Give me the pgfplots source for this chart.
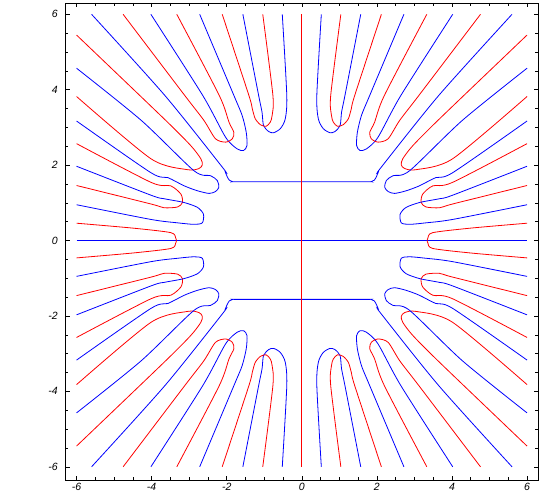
\documentclass[border=0pt]{standalone}
\usepackage{fontspec}
\setmainfont{Liberation Sans}
\usepackage{pgfplots}
\usepackage{pgfplotstable}
\pgfplotsset{compat=1.18}

% upper right quadrant only, the other three are mirror images
\pgfplotstableread{
x y
0.52 6.00
0.40 3.85
0.44 3.23
0.57 2.97
0.75 2.86
0.88 2.89
1.02 3.05
1.06 3.41
1.15 3.85
1.57 6.00
}\bluea
\pgfplotstableread{
x y
1.04 6.00
0.77 3.85
0.79 3.32
0.84 3.14
0.95 3.03
1.10 3.07
1.24 3.23
1.32 3.50
1.41 3.85
2.12 6.00
}\reda
\pgfplotstableread{
x y
2.72 6.00
1.81 3.85
1.59 3.32
1.48 2.87
1.46 2.52
1.55 2.39
1.72 2.43
2.03 2.74
2.64 3.85
4.02 6.00
}\blueb
\pgfplotstableread{
x y
3.33 6.00
2.20 3.85
1.94 3.14
1.81 2.87
1.85 2.70
2.03 2.61
2.30 2.70
2.61 3.19
3.12 3.85
4.76 6.00
}\redb
\pgfplotstableread{
x y
5.60 6.00
3.65 3.85
2.12 1.95
2.04 1.82
1.99 1.70
1.93 1.60
1.84 1.56
1.70 1.56
0.00 1.56
}\bluec
\pgfplotstableread{
x y
6.00 5.45
3.67 3.23
2.96 2.52
2.69 2.17
2.65 2.01
2.74 1.91
3.05 1.88
4.02 2.17
6.00 3.82
}\redc
\pgfplotstableread{
x y
6.00 4.57
4.28 3.19
2.87 1.85
2.43 1.72
2.25 1.59
2.21 1.41
2.30 1.30
2.47 1.25
2.78 1.32
3.13 1.45
3.57 1.67
4.02 1.80
6.00 3.17
}\blued
\pgfplotstableread{
x y
6.00 2.57
4.01 1.54
3.49 1.45
3.22 1.23
3.18 1.01
3.31 0.89
3.67 0.87
4.02 0.97
6.00 1.46
}\redd
\pgfplotstableread{
x y
6.00 1.97
4.01 1.20
3.67 1.11
3.14 1.01
2.78 0.88
2.62 0.70
2.65 0.47
2.87 0.43
3.31 0.47
4.02 0.56
6.00 0.95
}\bluee
\pgfplotstableread{
x y
6.00 0.46
4.50 0.33
3.49 0.21
3.36 0.07
3.34 0.00
}\rede

\newcommand{\fourfold}[2]{%
  \addplot[#1] table[x=x,y=y]{#2};
  \addplot[#1] table[x expr=-\thisrow{x},y=y]{#2};
  \addplot[#1] table[x=x,y expr=-\thisrow{y}]{#2};
  \addplot[#1] table[x expr=-\thisrow{x},y expr=-\thisrow{y}]{#2};
}

\begin{document}
\begin{tikzpicture}
\begin{axis}[
  scale only axis,
  width=473pt, height=477pt,
  xmin=-6.3, xmax=6.3, ymin=-6.35, ymax=6.3,
  xtick={-6,-4,...,6}, ytick={-6,-4,...,6},
  minor tick num=3,
  tick align=inside,
  major tick length=4.5pt, minor tick length=3pt,
  every tick/.style={black, line width=0.6pt},
  axis line style={line width=0.8pt},
  ticklabel style={font=\fontsize{10.5}{12}\selectfont\itshape},
  /pgf/number format/assume math mode=true,
  yticklabel style={xshift=-4pt},
  every axis plot/.append style={line width=0.8pt, smooth, tension=0.45, mark=none},
]
\addplot[blue] coordinates {(-6,0) (6,0)};
\fourfold{blue}{\bluea}
\fourfold{red}{\reda}
\fourfold{blue}{\blueb}
\fourfold{red}{\redb}
\fourfold{blue}{\bluec}
\fourfold{red}{\redc}
\fourfold{blue}{\blued}
\fourfold{red}{\redd}
\fourfold{blue}{\bluee}
\fourfold{red}{\rede}
\addplot[color=red] coordinates {(0,-6) (0,6)};
\end{axis}
\path ([xshift=-65.3pt,yshift=-20.3pt]current axis.south west) rectangle ([xshift=4.7pt,yshift=3pt]current axis.north east);
\end{tikzpicture}
\end{document}
